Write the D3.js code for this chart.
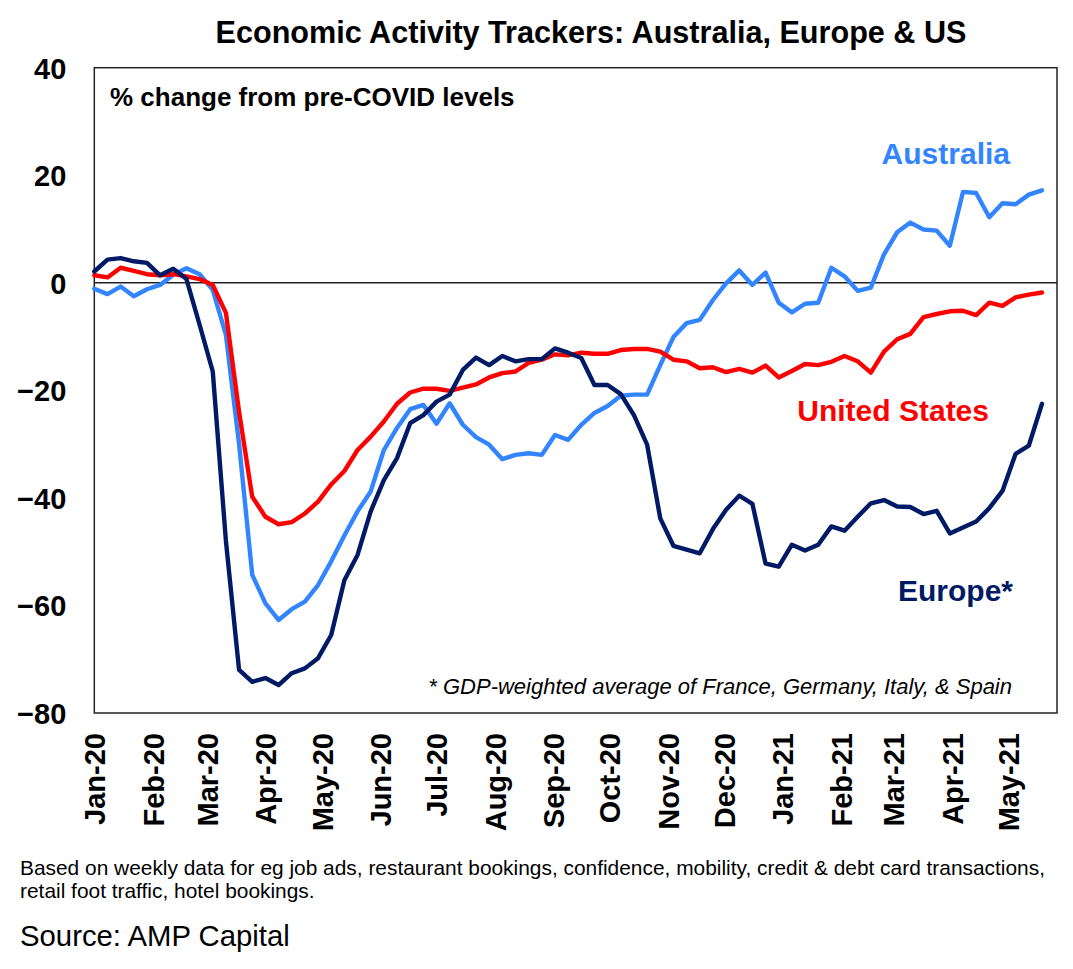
<!DOCTYPE html>
<html>
<head>
<meta charset="utf-8">
<script src="https://cdn.jsdelivr.net/npm/d3@7/dist/d3.min.js"></script>
<style>
  html, body { margin: 0; padding: 0; background: #fff; }
  svg { display: block; font-family: "Liberation Sans", Arial, Helvetica, sans-serif; }
</style>
</head>
<body>
<svg id="chart" width="1073" height="969"></svg>
<script>
// ---- Data (weekly, % change from pre-COVID levels) ----
const weeks = [
  "2020-01-01","2020-01-08","2020-01-15","2020-01-22","2020-01-29",
  "2020-02-05","2020-02-12","2020-02-19","2020-02-26",
  "2020-03-04","2020-03-11","2020-03-18","2020-03-25",
  "2020-04-01","2020-04-08","2020-04-15","2020-04-22","2020-04-29",
  "2020-05-06","2020-05-13","2020-05-20","2020-05-27",
  "2020-06-03","2020-06-10","2020-06-17","2020-06-24",
  "2020-07-01","2020-07-08","2020-07-15","2020-07-22","2020-07-29",
  "2020-08-05","2020-08-12","2020-08-19","2020-08-26",
  "2020-09-02","2020-09-09","2020-09-16","2020-09-23","2020-09-30",
  "2020-10-07","2020-10-14","2020-10-21","2020-10-28",
  "2020-11-04","2020-11-11","2020-11-18","2020-11-25",
  "2020-12-02","2020-12-09","2020-12-16","2020-12-23","2020-12-30",
  "2021-01-06","2021-01-13","2021-01-20","2021-01-27",
  "2021-02-03","2021-02-10","2021-02-17","2021-02-24",
  "2021-03-03","2021-03-10","2021-03-17","2021-03-24","2021-03-31",
  "2021-04-07","2021-04-14","2021-04-21","2021-04-28",
  "2021-05-05","2021-05-12","2021-05-19"
];

const australia = [
  -1.1,-2.1,-0.7,-2.5,-1.2,-0.4,1.5,2.7,1.6,-1.3,
  -9.7,-30,-54.3,-59.6,-62.7,-60.7,-59.3,-56.2,-51.8,-47,
  -42.5,-38.8,-31.1,-27.0,-23.5,-22.7,-26.2,-22.4,-26.4,-28.7,
  -30.1,-32.8,-32.0,-31.7,-32.0,-28.3,-29.2,-26.4,-24.2,-22.9,
  -21.0,-20.8,-20.8,-15.3,-10.1,-7.5,-6.9,-3.2,-0.1,2.3,
  -0.4,1.9,-3.7,-5.5,-3.9,-3.7,2.8,1.2,-1.5,-0.9,
  5.3,9.4,11.2,9.9,9.7,6.9,16.9,16.7,12.2,14.8,
  14.6,16.4,17.2
];

const unitedStates = [
  1.4,1.0,2.8,2.2,1.6,1.4,1.6,1.2,0.7,-0.4,
  -5.6,-24,-39.8,-43.5,-44.9,-44.5,-42.9,-40.7,-37.5,-35,
  -31.1,-28.6,-25.8,-22.5,-20.4,-19.7,-19.7,-20.1,-19.5,-18.9,
  -17.6,-16.8,-16.5,-14.9,-14.3,-13.3,-13.5,-13.0,-13.2,-13.2,
  -12.5,-12.3,-12.3,-12.8,-14.3,-14.6,-15.9,-15.7,-16.6,-16.0,
  -16.7,-15.4,-17.6,-16.4,-15.1,-15.3,-14.7,-13.6,-14.6,-16.7,
  -12.8,-10.5,-9.5,-6.4,-5.8,-5.3,-5.2,-6.0,-3.7,-4.3,
  -2.7,-2.2,-1.8
];

const europe = [
  2.1,4.3,4.6,4.0,3.7,1.4,2.6,0.7,-7.8,-16.5,
  -48,-72,-74.2,-73.5,-74.8,-72.6,-71.7,-69.8,-65.5,-55.3,
  -50.6,-42.5,-36.7,-32.6,-26.1,-24.6,-22.1,-20.8,-16.2,-13.9,
  -15.3,-13.6,-14.6,-14.2,-14.2,-12.2,-13.0,-14.0,-19.0,-19.0,
  -20.7,-24.6,-30.1,-43.8,-48.9,-49.6,-50.3,-45.8,-42.2,-39.6,
  -41.1,-52.2,-52.8,-48.7,-49.8,-48.7,-45.3,-46.1,-43.5,-41.0,
  -40.4,-41.6,-41.7,-43.0,-42.4,-46.6,-45.5,-44.4,-41.9,-38.7,
  -31.8,-30.3,-22.5
];

const yTicks = [40, 20, 0, -20, -40, -60, -80];
const xDomain = ["2020-01-01", "2021-05-27"];

const seriesDefs = [
  { name: "Australia", values: australia, color: "#3385FF" },
  { name: "United States", values: unitedStates, color: "#FF0000" },
  { name: "Europe*", values: europe, color: "#001A66" }
];

// ---- Layout ----
const W = 1073, H = 969;
const plot = { left: 94.3, right: 1057, top: 67.7, bottom: 713 };
const FONT = '"Liberation Sans", Arial, Helvetica, sans-serif';

const svg = d3.select("#chart");
svg.append("rect").attr("width", W).attr("height", H).attr("fill", "#fff");

const parse = d3.timeParse("%Y-%m-%d");
const dates = weeks.map(parse);

const x = d3.scaleTime()
  .domain(xDomain.map(parse))
  .range([plot.left, plot.right]);

const y = d3.scaleLinear()
  .domain([-80, 40])
  .range([plot.bottom, plot.top]);

// Title
svg.append("text")
  .attr("x", 591).attr("y", 43)
  .attr("text-anchor", "middle")
  .style("font-size", "30.6px").style("font-weight", "bold").attr("fill", "#000")
  .text("Economic Activity Trackers: Australia, Europe & US");

// Frame
svg.append("rect")
  .attr("x", plot.left).attr("y", plot.top)
  .attr("width", plot.right - plot.left).attr("height", plot.bottom - plot.top)
  .attr("fill", "none").attr("stroke", "#222").attr("stroke-width", 1.5);

// Zero line
svg.append("line")
  .attr("x1", plot.left).attr("x2", plot.right)
  .attr("y1", y(0)).attr("y2", y(0))
  .attr("stroke", "#222").attr("stroke-width", 1.5);

// Y axis
const yAxis = svg.append("g")
  .attr("transform", `translate(${plot.left},0)`)
  .call(d3.axisLeft(y).tickValues(yTicks).tickSize(0).tickPadding(28).tickFormat(d3.format("d")));
yAxis.select(".domain").remove();
yAxis.selectAll("text")
  .style("font-size", "29px").style("font-weight", "bold")
  .style("font-family", FONT).attr("fill", "#000")
  .attr("dy", "0.36em");

// X axis
const xAxis = svg.append("g")
  .attr("transform", `translate(0,${plot.bottom})`)
  .call(d3.axisBottom(x).ticks(d3.timeMonth.every(1)).tickSize(0).tickFormat(d3.timeFormat("%b-%y")));
xAxis.select(".domain").remove();
xAxis.selectAll("text")
  .style("font-size", "29px").style("font-weight", "bold")
  .style("font-family", FONT).attr("fill", "#000")
  .attr("y", 0).attr("x", -20).attr("dy", "0.36em")
  .attr("transform", "rotate(-90)")
  .style("text-anchor", "end");

// Lines
const line = d3.line()
  .x((d, i) => x(dates[i]))
  .y(d => y(d));

svg.append("g").selectAll("path")
  .data(seriesDefs)
  .join("path")
  .attr("d", s => line(s.values))
  .attr("fill", "none")
  .attr("stroke", s => s.color)
  .attr("stroke-width", 4.4)
  .attr("stroke-linejoin", "round")
  .attr("stroke-linecap", "round");

// In-plot texts
svg.append("text")
  .attr("x", 110).attr("y", 106)
  .style("font-size", "26px").style("font-weight", "bold").attr("fill", "#000")
  .text("% change from pre-COVID levels");

svg.append("text")
  .attr("x", 1010).attr("y", 164).attr("text-anchor", "end")
  .style("font-size", "30px").style("font-weight", "bold").attr("fill", seriesDefs[0].color)
  .text("Australia");

svg.append("text")
  .attr("x", 989).attr("y", 421).attr("text-anchor", "end")
  .style("font-size", "30px").style("font-weight", "bold").attr("fill", seriesDefs[1].color)
  .text("United States");

svg.append("text")
  .attr("x", 1013).attr("y", 601).attr("text-anchor", "end")
  .style("font-size", "30px").style("font-weight", "bold").attr("fill", seriesDefs[2].color)
  .text("Europe*");

svg.append("text")
  .attr("x", 1012).attr("y", 694).attr("text-anchor", "end")
  .style("font-size", "22px").style("font-style", "italic").attr("fill", "#000")
  .text("* GDP-weighted average of France, Germany, Italy, & Spain");

// Footer
svg.append("text")
  .attr("x", 20).attr("y", 875)
  .style("font-size", "20.9px").attr("fill", "#000")
  .text("Based on weekly data for eg job ads, restaurant bookings, confidence, mobility, credit & debt card transactions,");
svg.append("text")
  .attr("x", 20).attr("y", 898)
  .style("font-size", "20.9px").attr("fill", "#000")
  .text("retail foot traffic, hotel bookings.");
svg.append("text")
  .attr("x", 20).attr("y", 946)
  .style("font-size", "29.3px").attr("fill", "#000")
  .text("Source: AMP Capital");
</script>
</body>
</html>
